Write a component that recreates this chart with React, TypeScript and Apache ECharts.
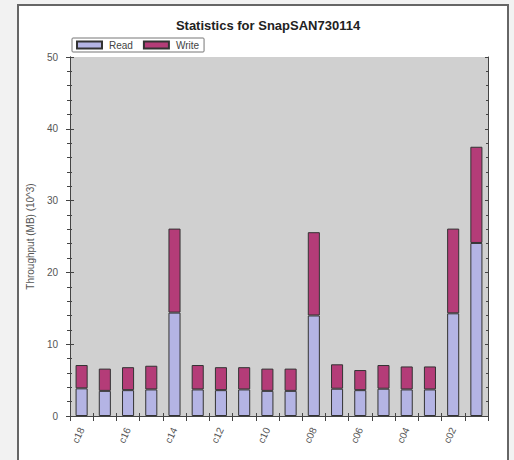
import React, { useEffect, useRef } from "react";
import * as echarts from "echarts";

const categories = ["c18","c17","c16","c15","c14","c13","c12","c11","c10","c09","c08","c07","c06","c05","c04","c03","c02","c01"];
const readValues = [3.85, 3.5, 3.6, 3.7, 14.4, 3.7, 3.6, 3.7, 3.5, 3.5, 14.0, 3.8, 3.6, 3.8, 3.7, 3.7, 14.3, 24.1];
const writeValues = [3.25, 3.1, 3.2, 3.3, 11.7, 3.4, 3.2, 3.1, 3.1, 3.1, 11.6, 3.4, 2.8, 3.3, 3.2, 3.2, 11.8, 13.4];
const titleText = "Statistics for SnapSAN730114";
const yAxisName = "Throughput (MB) (10^3)";
const seriesNames = ["Read", "Write"];

const FONT = "'Liberation Sans', Arial, sans-serif";
const AXIS_COLOR = "#444";
const LABEL_COLOR = "#555";

export default function App() {
  const ref = useRef<HTMLDivElement>(null);
  useEffect(() => {
    if (!ref.current) return;
    const chart = echarts.init(ref.current, undefined, { renderer: "svg" });
    const yBase = {
      type: "value" as const,
      min: 0,
      max: 50,
      interval: 10,
      splitLine: { show: false },
      axisLine: { show: true, lineStyle: { color: AXIS_COLOR, width: 1 } },
    };
    const xBase = {
      type: "category" as const,
      data: categories,
      boundaryGap: true,
      axisLine: { show: true, lineStyle: { color: AXIS_COLOR, width: 1 } },
      splitLine: { show: false },
    };
    chart.setOption({
      animation: false,
      backgroundColor: "#f2f2f2",
      graphic: [
        {
          type: "rect",
          shape: { x: 18, y: 5, width: 490, height: 470 },
          style: { fill: "#ffffff", stroke: "#666", lineWidth: 2 },
          z: -10,
          silent: true,
        },
      ],
      title: {
        text: titleText,
        left: 263,
        textAlign: "center",
        top: 14,
        textStyle: { fontFamily: FONT, fontSize: 13, fontWeight: "bold", color: "#222" },
      },
      legend: {
        left: 72,
        top: 38,
        padding: [2, 5, 2, 4],
        itemWidth: 25,
        itemHeight: 7,
        itemGap: 10,
        borderColor: "#777",
        borderWidth: 1,
        borderRadius: 1,
        backgroundColor: "#ffffff",
        icon: "rect",
        textStyle: { fontFamily: FONT, fontSize: 10, color: "#444", padding: [0, 0, 0, 2] },
        data: seriesNames,
      },
      grid: {
        left: 70,
        right: 26,
        top: 57,
        bottom: 44,
        show: true,
        backgroundColor: "#d0d0d0",
        borderWidth: 0,
      },
      xAxis: [
        {
          ...xBase,
          position: "bottom",
          axisTick: { show: true, inside: false, length: 5, interval: 0, lineStyle: { color: AXIS_COLOR } },
          axisLabel: {
            interval: 1,
            rotate: 65,
            fontFamily: FONT,
            fontSize: 10,
            color: LABEL_COLOR,
            margin: 12,
          },
        },
        {
          ...xBase,
          position: "bottom",
          axisTick: { show: true, inside: true, length: 3, interval: 0, lineStyle: { color: AXIS_COLOR } },
          axisLabel: { show: false },
        },
        {
          ...xBase,
          position: "top",
          axisTick: { show: true, inside: true, length: 4, interval: 0, lineStyle: { color: AXIS_COLOR } },
          axisLabel: { show: false },
        },
      ],
      yAxis: [
        {
          ...yBase,
          position: "left",
          name: yAxisName,
          nameLocation: "middle",
          nameGap: 35,
          nameTextStyle: { fontFamily: FONT, fontSize: 10, color: LABEL_COLOR },
          axisTick: { show: true, inside: false, length: 4, lineStyle: { color: AXIS_COLOR } },
          minorTick: { show: true, splitNumber: 5, length: 3, lineStyle: { color: AXIS_COLOR } },
          axisLabel: { fontFamily: FONT, fontSize: 10, color: LABEL_COLOR, margin: 12 },
        },
        {
          ...yBase,
          position: "left",
          axisTick: { show: true, inside: true, length: 4, lineStyle: { color: AXIS_COLOR } },
          minorTick: { show: true, splitNumber: 5, length: 2, lineStyle: { color: AXIS_COLOR } },
          axisLabel: { show: false },
        },
        {
          ...yBase,
          position: "right",
          axisTick: { show: true, inside: true, length: 3, lineStyle: { color: AXIS_COLOR } },
          minorTick: { show: true, splitNumber: 5, length: 2, lineStyle: { color: AXIS_COLOR } },
          axisLabel: { show: false },
        },
      ],
      series: [
        {
          name: seriesNames[0],
          type: "bar",
          stack: "total",
          xAxisIndex: 0,
          yAxisIndex: 0,
          barWidth: "52%",
          data: readValues,
          itemStyle: { color: "#b4b4e4", borderColor: "#333", borderWidth: 1 },
        },
        {
          name: seriesNames[1],
          type: "bar",
          stack: "total",
          xAxisIndex: 0,
          yAxisIndex: 0,
          barWidth: "52%",
          data: writeValues,
          itemStyle: { color: "#b43c78", borderColor: "#333", borderWidth: 1 },
        },
      ],
    });
    return () => chart.dispose();
  }, []);
  return (
    <div
      ref={ref}
      style={{ position: "fixed", left: 0, top: 0, width: 514, height: 460 }}
    />
  );
}
